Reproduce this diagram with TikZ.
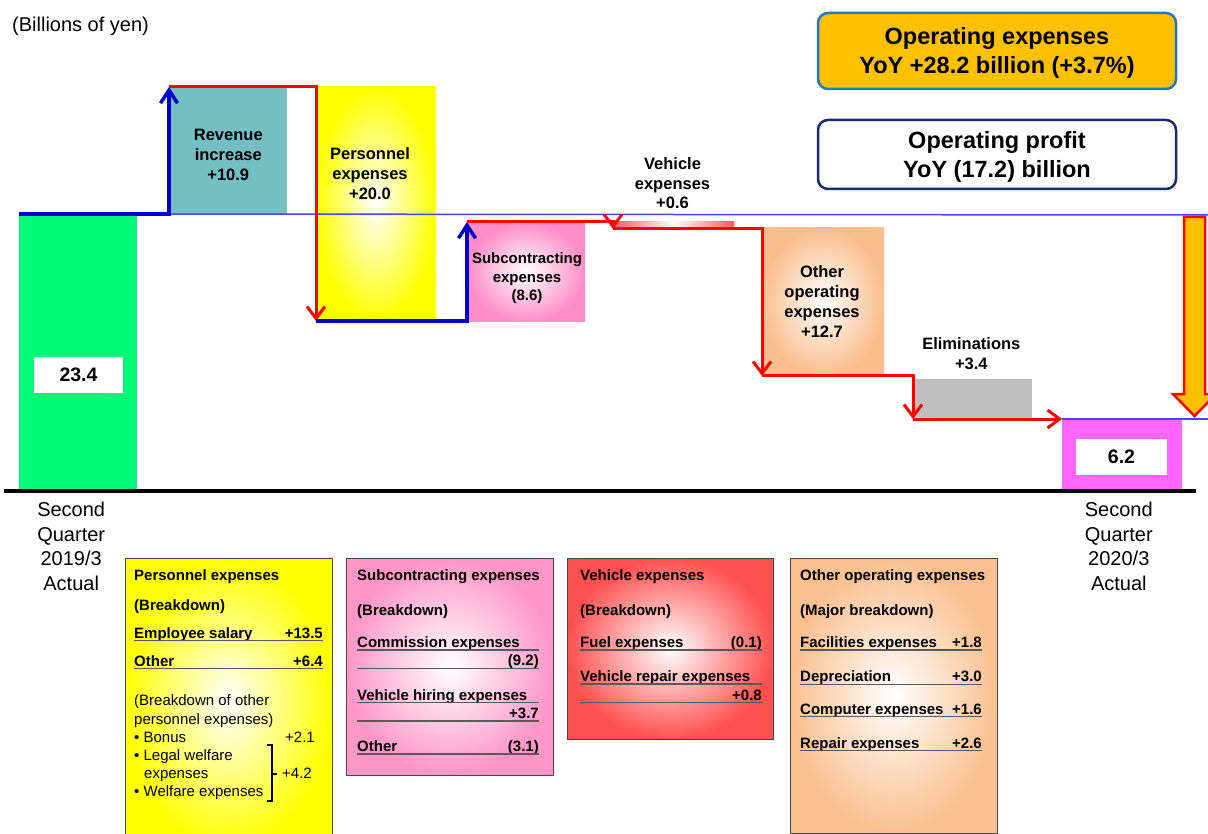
\documentclass[tikz,border=0pt]{standalone}
\usepackage{fontspec}
\setmainfont{Liberation Sans}
\usetikzlibrary{arrows.meta}
\newcommand\ml[1]{\begin{tabular}[t]{@{}c@{}}#1\end{tabular}}
\newcommand\fsz[2]{\fontsize{#1}{#2}\selectfont}
\definecolor{gbar}{RGB}{0,250,120}
\definecolor{tbar}{RGB}{116,190,196}
\definecolor{pbar}{RGB}{255,140,200}
\definecolor{obar}{RGB}{250,190,140}
\definecolor{ebar}{RGB}{191,191,191}
\definecolor{mbar}{RGB}{255,102,255}
\definecolor{vred}{RGB}{255,90,90}
\definecolor{bline}{RGB}{0,0,200}
\definecolor{refblue}{RGB}{70,70,255}
\definecolor{opex}{RGB}{255,192,0}
\definecolor{opexb}{RGB}{30,120,200}
\definecolor{navy}{RGB}{25,45,110}
\definecolor{boxgray}{RGB}{70,70,70}
\definecolor{ulgray}{RGB}{90,90,90}
\definecolor{ybox}{RGB}{255,255,0}
\definecolor{pbox}{RGB}{255,150,200}
\definecolor{rbox}{RGB}{255,80,80}
\definecolor{obox}{RGB}{250,192,143}
\begin{document}
\begin{tikzpicture}[x=1pt,y=-1pt,
  bar/.style={inner sep=0, outer sep=0, anchor=north west, draw=none},
  lab/.style={inner sep=0, anchor=base, font=\fsz{16.5}{20}\bfseries},
  qlab/.style={inner sep=0, anchor=base, font=\fsz{20}{24.5}},
  upline/.style={line width=3.5pt, draw=bline, -{Straight Barb[length=13pt,width=17pt]}},
  downline/.style={line width=3pt, draw=red, -{Straight Barb[length=12pt,width=18pt]}},
  refline/.style={line width=1.5pt, draw=refblue},
  valbox/.style={fill=white, inner sep=0, minimum height=36, font=\fsz{19.5}{22}\bfseries},
  tbox/.style={rounded corners=10pt, line width=2.5pt, minimum width=358},
  ttext/.style={inner sep=0, anchor=base, font=\fsz{23.5}{29}\bfseries},
  bbox/.style={inner sep=0, outer sep=0, anchor=north west, draw=boxgray, line width=1pt, inner color=white},
  bl/.style={inner sep=0, anchor=base west, font=\fsz{15}{18}\bfseries},
  br/.style={inner sep=0, anchor=base east, font=\fsz{15}{18}\bfseries},
  nl/.style={inner sep=0, anchor=base west, font=\fsz{15}{18}},
  nr/.style={inner sep=0, anchor=base east, font=\fsz{15}{18}},
  uline/.style={draw=ulgray, line width=1.2pt},
]
\useasboundingbox (0,0) rectangle (1208,834);
\clip (0,0) rectangle (1208,834);
\fill[white] (0,0) rectangle (1208,834);

% unit
\node[inner sep=0, anchor=base west, font=\fsz{20}{24}] (unit) at (12,31.7) {(Billions of yen)};

% title boxes
\node[tbox, fill=opex, draw=opexb, minimum height=76] (opx) at (997,51) {};
\node[ttext] (opxt) at (997,45) {\ml{Operating expenses\\YoY +28.2 billion (+3.7\%)}};
\node[tbox, fill=white, draw=navy, minimum height=69] (opp) at (997,154.5) {};
\node[ttext] (oppt) at (997,148.3) {\ml{Operating profit\\YoY (17.2) billion}};

% bars
\node[bar, fill=gbar, minimum width=118, minimum height=277] (start) at (19,214) {};
\node[bar, fill=tbar, minimum width=118, minimum height=128] (rev) at (169,87) {};
\node[bar, inner color=white, outer color=yellow, minimum width=120, minimum height=234] (pers) at (316,87) {};
\node[bar, inner color=white, outer color=pbar, minimum width=118, minimum height=100] (sub) at (467,222) {};
\node[bar, left color=vred, right color=vred, middle color=white, minimum width=121, minimum height=7] (veh) at (613,222) {};
\node[bar, inner color=white, outer color=obar, minimum width=122, minimum height=148] (oth) at (762,228) {};
\node[bar, fill=ebar, minimum width=119, minimum height=40] (elim) at (913,379) {};
\node[bar, fill=mbar, minimum width=120, minimum height=72] (fin) at (1062,419) {};

% value boxes
\node[valbox, minimum width=89] (v1) at (78.5,375) {23.4};
\node[valbox, minimum width=91] (v2) at (1121.5,457) {6.2};

% reference lines
\coordinate (refR) at (1208,215);
\coordinate (refR2) at (1208,419);
\draw[refline] (start.north east) -- (refR);
\draw[refline] (fin.north west) -- (refR2);

% big arrow
\draw[fill=opex, draw=red, line width=2.5pt, line join=miter]
  (1184,217) -- (1205,217) -- (1205,394) -- (1216,394) -- (1194.5,416)
  -- (1173,394) -- (1184,394) -- cycle;

% connectors
\draw[upline] (start.north west) -| (rev.north west);
\draw[downline] (rev.north west) -| (pers.south west);
\draw[upline] (pers.south west) -| (sub.north west);
\draw[downline] (sub.north west) -| (veh.south west);
\draw[downline] (veh.south west) -| (oth.south west);
\draw[downline] (oth.south west) -| (elim.south west);
\draw[downline] (elim.south west) -- (fin.north west);

% base line
\coordinate (bl0) at (4,491);
\coordinate (bl1) at (1196,491);
\draw[line width=4.5pt] (bl0) -- (bl1);

% bar labels
\node[lab] (revlab) at (228.3,140.7) {\ml{Revenue\\increase\\+10.9}};
\node[lab] (perslab) at (370,159.3) {\ml{Personnel\\expenses\\+20.0}};
\node[lab, font=\fsz{15}{18.3}\bfseries] (sublab) at (527,264) {\ml{Subcontracting\\expenses\\(8.6)}};
\node[lab, font=\fsz{16.5}{19.5}\bfseries] (vehlab) at (672.5,170) {\ml{Vehicle\\expenses\\+0.6}};
\node[lab] (othlab) at (822,277.3) {\ml{Other\\operating\\expenses\\+12.7}};
\node[lab] (elimlab) at (971.3,349.3) {\ml{Eliminations\\+3.4}};

\node[qlab] (q1) at (71.2,516.7) {\ml{Second\\Quarter\\2019/3\\Actual}};
\node[qlab] (q2) at (1118.8,516.7) {\ml{Second\\Quarter\\2020/3\\Actual}};

% breakdown boxes
\node[bbox, outer color=ybox, minimum width=207, minimum height=290] (ybx) at (125,558) {};
\node[bbox, outer color=pbox, minimum width=207, minimum height=217] (pbx) at (346,558) {};
\node[bbox, outer color=rbox, minimum width=206, minimum height=181] (rbx) at (567,558) {};
\node[bbox, outer color=obox, minimum width=207, minimum height=275] (obx) at (790,558) {};

% yellow box text
\node[bl] (y1) at (134,580.7) {Personnel expenses};
\node[bl] (y2) at (134,610) {(Breakdown)};
\node[bl] (y3) at (134,638) {Employee salary};
\node[br] (y3v) at (323,638) {+13.5};
\draw[uline] (134,640.7) -- (323,640.7);
\node[bl] (y4) at (134,666) {Other};
\node[br] (y4v) at (323,666) {+6.4};
\draw[uline] (134,668.7) -- (323,668.7);
\node[nl] (y5) at (134,705.5) {(Breakdown of other};
\node[nl] (y6) at (134,724) {personnel expenses)};
\node[nl] (y7) at (134,742.5) {\textbullet\ Bonus};
\node[nr] (y7v) at (315,742.5) {+2.1};
\node[nl] (y8) at (134,760.7) {\textbullet\ Legal welfare};
\node[nl] (y9) at (144,778.7) {expenses};
\node[nl] (y10) at (134,796.7) {\textbullet\ Welfare expenses};
\node[nr] (y9v) at (312,778.7) {+4.2};
\draw[line width=1.2pt] (267,745) -- (272,745) -- (272,801) -- (267,801);
\draw[line width=1.2pt] (272,774) -- (277,774);

% pink box text
\node[bl] (p1) at (357,580.7) {Subcontracting expenses};
\node[bl] (p2) at (357,615.7) {(Breakdown)};
\node[bl] (p3) at (357,647.5) {Commission expenses};
\draw[uline] (357,650) -- (539,650);
\node[br] (p3v) at (539,665.8) {(9.2)};
\draw[uline] (357,668.3) -- (539,668.3);
\node[bl] (p4) at (357,700.2) {Vehicle hiring expenses};
\draw[uline] (357,702.7) -- (539,702.7);
\node[br] (p4v) at (539,718.5) {+3.7};
\draw[uline] (357,721) -- (539,721);
\node[bl] (p5) at (357,751.5) {Other};
\node[br] (p5v) at (539,751.5) {(3.1)};
\draw[uline] (357,754) -- (539,754);

% red box text
\node[bl] (r1) at (580,580.7) {Vehicle expenses};
\node[bl] (r2) at (580,615.7) {(Breakdown)};
\node[bl] (r3) at (580,647.5) {Fuel expenses};
\node[br] (r3v) at (762,647.5) {(0.1)};
\draw[uline] (580,650) -- (762,650);
\node[bl] (r4) at (580,681.5) {Vehicle repair expenses};
\draw[uline] (580,684) -- (762,684);
\node[br] (r4v) at (762,700.2) {+0.8};
\draw[uline] (580,702.7) -- (762,702.7);

% orange box text
\node[bl] (o1) at (800,580.7) {Other operating expenses};
\node[bl] (o2) at (800,615.7) {(Major breakdown)};
\node[bl] (o3) at (800,647.5) {Facilities expenses};
\node[br] (o3v) at (982,647.5) {+1.8};
\draw[uline] (800,650) -- (982,650);
\node[bl] (o4) at (800,681.8) {Depreciation};
\node[br] (o4v) at (982,681.8) {+3.0};
\draw[uline] (800,684.3) -- (982,684.3);
\node[bl] (o5) at (800,714.2) {Computer expenses};
\node[br] (o5v) at (982,714.2) {+1.6};
\draw[uline] (800,716.7) -- (982,716.7);
\node[bl] (o6) at (800,748.2) {Repair expenses};
\node[br] (o6v) at (982,748.2) {+2.6};
\draw[uline] (800,750.7) -- (982,750.7);
\end{tikzpicture}
\end{document}
